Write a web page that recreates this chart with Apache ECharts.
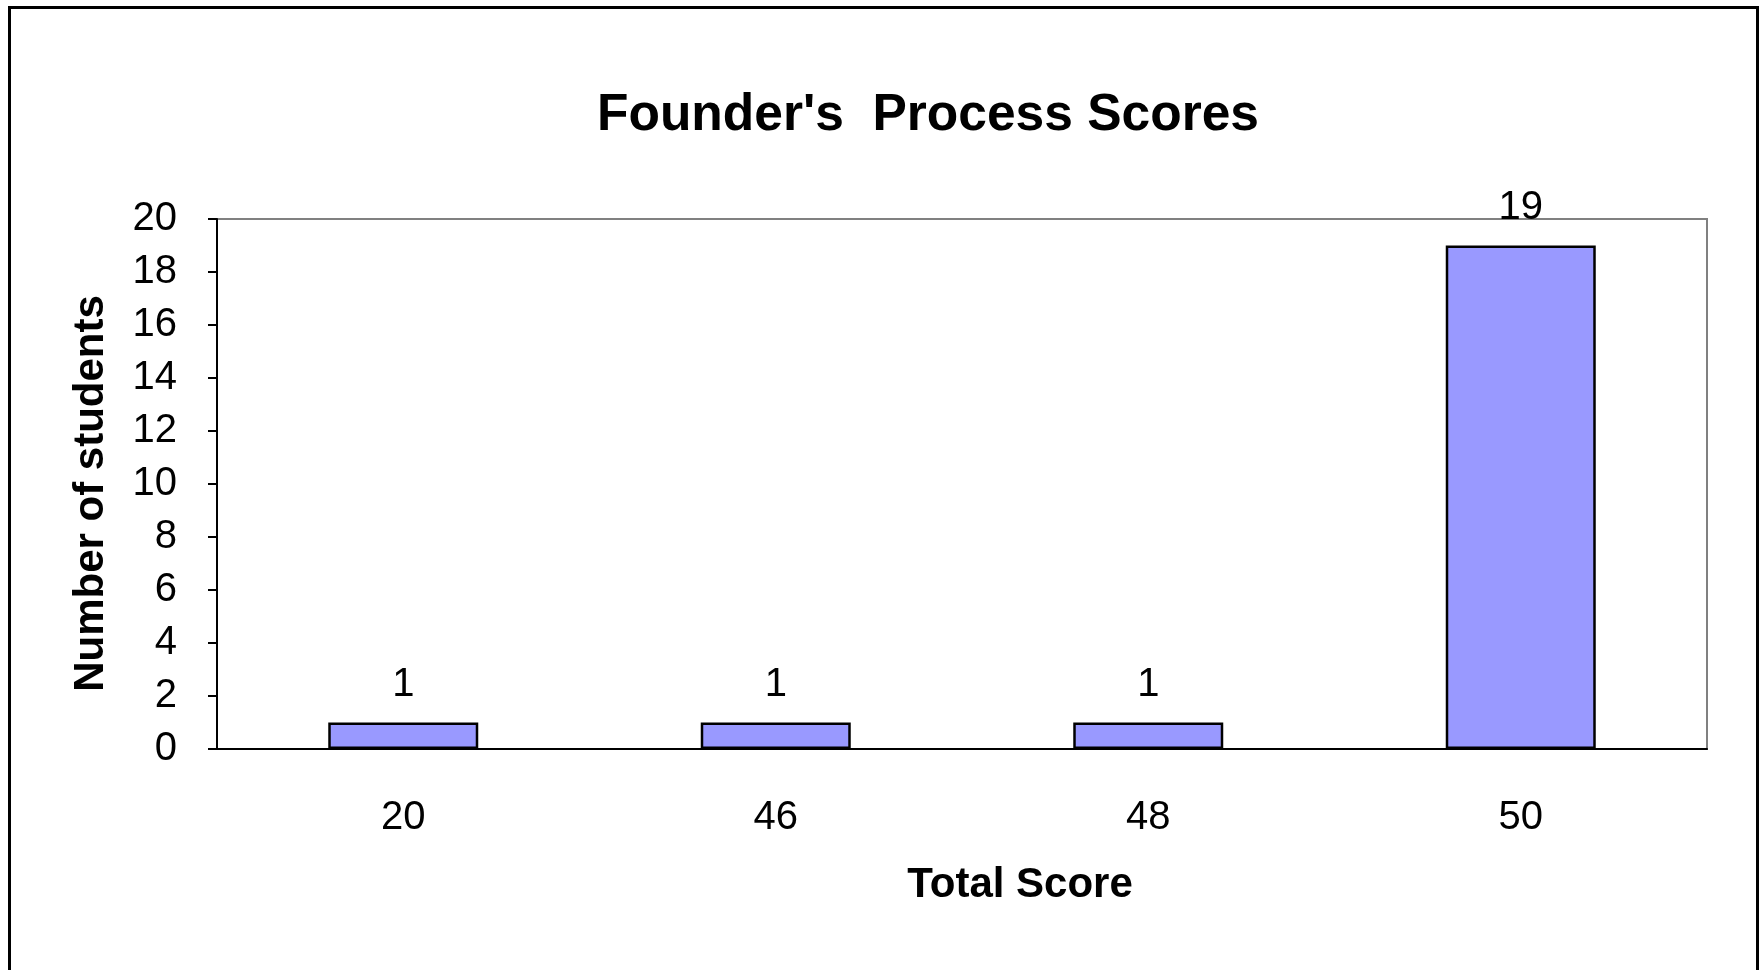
<!DOCTYPE html>
<html>
<head>
<meta charset="utf-8">
<title>Founder's Process Scores</title>
<script src="https://cdn.jsdelivr.net/npm/echarts@6/dist/echarts.min.js"></script>
<style>
  html, body { margin: 0; padding: 0; background: #fff; }
  #chart { width: 1761px; height: 970px; }
</style>
</head>
<body>
<div id="chart"></div>
<script>
const scores = ['20', '46', '48', '50'];
const students = [1, 1, 1, 19];
const yTicks = { min: 0, max: 20, interval: 2 };

const font = "'Liberation Sans', Arial, sans-serif";

const chart = echarts.init(document.getElementById('chart'));

const option = {
  backgroundColor: '#fff',
  animation: false,
  title: {
    text: "Founder's  Process Scores",
    left: 592,
    top: 85,
    textStyle: {
      fontFamily: font,
      fontSize: 51.5,
      fontWeight: 'bold',
      color: '#000'
    }
  },
  graphic: [
    {
      // outer chart frame, bottom edge runs off the page
      type: 'rect',
      left: 7,
      top: 5,
      shape: { width: 1748, height: 1000 },
      style: { fill: 'none', stroke: '#000', lineWidth: 3 },
      z: 100
    }
  ],
  grid: {
    left: 217,
    top: 219,
    right: 54,
    bottom: 221,
    show: true,
    borderColor: '#808080',
    borderWidth: 2,
    backgroundColor: '#fff'
  },
  xAxis: {
    type: 'category',
    data: scores,
    name: 'Total Score',
    nameLocation: 'middle',
    nameGap: 115,
    nameTextStyle: {
      fontFamily: font,
      fontSize: 42,
      fontWeight: 'bold',
      color: '#000',
      padding: [0, 0, 0, 116]
    },
    axisLine: { lineStyle: { color: '#000', width: 2 } },
    axisTick: { length: 10, lineStyle: { color: '#000', width: 2 } },
    axisLabel: {
      fontFamily: font,
      fontSize: 40,
      color: '#000',
      margin: 49
    },
    splitLine: { show: false }
  },
  yAxis: {
    type: 'value',
    min: yTicks.min,
    max: yTicks.max,
    interval: yTicks.interval,
    name: 'Number of students',
    nameLocation: 'middle',
    nameGap: 105,
    nameTextStyle: {
      fontFamily: font,
      fontSize: 42,
      fontWeight: 'bold',
      color: '#000',
      padding: [0, 19, 0, 0]
    },
    axisLine: { show: true, lineStyle: { color: '#000', width: 2 } },
    axisTick: { show: true, length: 9, lineStyle: { color: '#000', width: 2 } },
    axisLabel: {
      fontFamily: font,
      fontSize: 40,
      color: '#000',
      margin: 40
    },
    splitLine: { show: false }
  },
  series: [
    {
      type: 'bar',
      data: students,
      barWidth: 150,
      itemStyle: {
        color: '#9999FF',
        borderColor: '#000',
        borderWidth: 2.5
      },
      label: {
        show: true,
        position: 'top',
        distance: 18,
        fontFamily: font,
        fontSize: 40,
        color: '#000'
      }
    }
  ]
};

chart.setOption(option);
</script>
</body>
</html>
